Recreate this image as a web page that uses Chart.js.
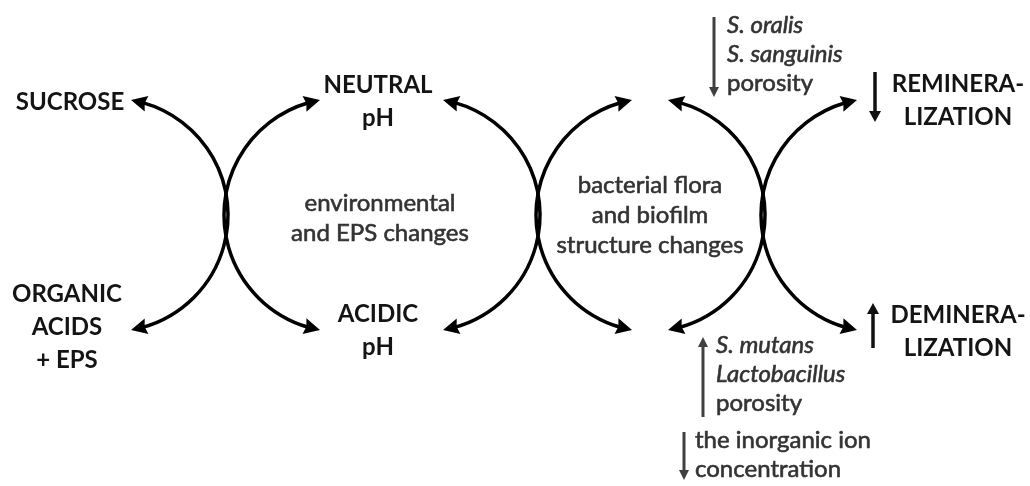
<!DOCTYPE html>
<html>
<head>
<meta charset="utf-8">
<title>Biofilm changes diagram</title>
<script src="https://cdn.jsdelivr.net/npm/chart.js@4.4.1/dist/chart.umd.min.js"></script>
<style>
  html, body { margin: 0; padding: 0; background: #fff; }
  #wrap { width: 1030px; height: 486px; position: relative; }
</style>
</head>
<body>
<div id="wrap"><canvas id="diagram"></canvas></div>
<script>
/*--------------------------------
    Data (axis units: 0..1030 across, 0..486 down)
----------------------------------*/
// double headed arcs, in pairs that cross: top tip -> crossing -> bottom tip
var arcTipX  = [131, 320, 443, 632, 668, 857];
var arcApexX = [228, 224, 540, 536, 765, 761];
var arcTipY  = [100, 330];
var arcApexY = 215;

var boldLabels = [["SUCROSE"], ["ORGANIC", "ACIDS", "+ EPS"], ["NEUTRAL", "pH"],
                  ["ACIDIC", "pH"], ["REMINERA-", "LIZATION"], ["DEMINERA-", "LIZATION"]];
var boldX = [70, 67, 378, 378, 958, 958];
var boldY = [110, 302, 93, 322, 92, 323];

var centreLabels = [["environmental", "and EPS changes"],
                    ["bacterial flora", "and biofilm", "structure changes"]];
var centreX = [380, 650];
var centreY = [211, 193];

var noteLabels = [["S. oralis", "S. sanguinis", "porosity"],
                  ["S. mutans", "Lactobacillus", "porosity"],
                  ["the inorganic ion", "concentration"]];
var noteItalic = [[true, true, false], [true, true, false], [false, false]];
var noteX = [727, 716, 695];
var noteY = [33, 353, 448];

// vertical trend arrows, drawn from -> to
var trendX    = [714, 703, 684, 875, 873];
var trendFrom = [17, 417, 432, 72, 348];
var trendTo   = [97, 337, 480, 122, 303];
var trendDark = [false, false, false, true, true];

/*--------------------------------
    Helpers
----------------------------------*/
function circleFrom(p1, p2, p3) {
    var ax = p1.x, ay = p1.y, bx = p2.x, by = p2.y, cx = p3.x, cy = p3.y;
    var d = 2 * (ax * (by - cy) + bx * (cy - ay) + cx * (ay - by));
    var a2 = ax * ax + ay * ay, b2 = bx * bx + by * by, c2 = cx * cx + cy * cy;
    var ux = (a2 * (by - cy) + b2 * (cy - ay) + c2 * (ay - by)) / d;
    var uy = (a2 * (cx - bx) + b2 * (ax - cx) + c2 * (bx - ax)) / d;
    return { x: ux, y: uy, r: Math.hypot(ax - ux, ay - uy) };
}

function arrowHead(ctx, tip, base, len, half) {
    var dx = tip.x - base.x, dy = tip.y - base.y;
    var l = Math.hypot(dx, dy);
    var ux = dx / l, uy = dy / l;
    var bx = tip.x - ux * len, by = tip.y - uy * len;
    ctx.beginPath();
    ctx.moveTo(tip.x, tip.y);
    ctx.lineTo(bx - uy * half, by + ux * half);
    ctx.lineTo(bx + ux * 2, by + uy * 2);
    ctx.lineTo(bx + uy * half, by - ux * half);
    ctx.closePath();
    ctx.fill();
}

function drawArc(ctx, p1, p2, p3) {
    var c = circleFrom(p1, p2, p3);
    var norm = function (a) { return ((a % (2 * Math.PI)) + 2 * Math.PI) % (2 * Math.PI); };
    var a1 = Math.atan2(p1.y - c.y, p1.x - c.x);
    var a2 = Math.atan2(p2.y - c.y, p2.x - c.x);
    var a3 = Math.atan2(p3.y - c.y, p3.x - c.x);
    var cw = norm(a2 - a1) < norm(a3 - a1);
    var s = cw ? 1 : -1;
    var d = 12 / c.r;
    var b1 = a1 + s * d, b3 = a3 - s * d;
    ctx.beginPath();
    ctx.arc(c.x, c.y, c.r, b1, b3, !cw);
    ctx.stroke();
    var e = 15 / c.r;
    arrowHead(ctx, p1, { x: c.x + c.r * Math.cos(a1 + s * e), y: c.y + c.r * Math.sin(a1 + s * e) }, 16, 8);
    arrowHead(ctx, p3, { x: c.x + c.r * Math.cos(a3 - s * e), y: c.y + c.r * Math.sin(a3 - s * e) }, 16, 8);
}

// fill + thin stroke so the light text has some of the original's weight
function heavyText(ctx, s, x, y) {
    ctx.fillText(s, x, y);
    ctx.strokeText(s, x, y);
}

/*--------------------------------
    Plugin that draws the diagram
----------------------------------*/
var diagramPlugin = {
    id: 'diagram',
    afterDraw: function (chart) {
        var ctx = chart.ctx;
        var xs = chart.scales.x, ys = chart.scales.y;
        var px = function (v) { return xs.getPixelForValue(v); };
        var py = function (v) { return ys.getPixelForValue(v); };
        ctx.save();

        // arcs
        ctx.strokeStyle = '#000';
        ctx.fillStyle = '#000';
        ctx.lineWidth = 3.5;
        for (var i = 0; i < arcTipX.length; i++) {
            drawArc(ctx,
                { x: px(arcTipX[i]), y: py(arcTipY[0]) },
                { x: px(arcApexX[i]), y: py(arcApexY) },
                { x: px(arcTipX[i]), y: py(arcTipY[1]) });
        }

        // trend arrows
        for (var t = 0; t < trendX.length; t++) {
            var col = trendDark[t] ? '#111' : '#404040';
            var x = px(trendX[t]), y0 = py(trendFrom[t]), y1 = py(trendTo[t]);
            var dir = y1 > y0 ? 1 : -1;
            var hl = trendDark[t] ? 11 : 10;
            ctx.strokeStyle = col;
            ctx.fillStyle = col;
            ctx.lineWidth = trendDark[t] ? 3.5 : 3;
            ctx.beginPath();
            ctx.moveTo(x, y0);
            ctx.lineTo(x, y1 - dir * (hl - 2));
            ctx.stroke();
            ctx.beginPath();
            ctx.moveTo(x, y1);
            ctx.lineTo(x - (trendDark[t] ? 6 : 5), y1 - dir * hl);
            ctx.lineTo(x + (trendDark[t] ? 6 : 5), y1 - dir * hl);
            ctx.closePath();
            ctx.fill();
        }

        // bold labels
        ctx.textBaseline = 'alphabetic';
        ctx.textAlign = 'center';
        ctx.fillStyle = '#141414';
        ctx.font = 'bold 24px Lato';
        boldLabels.forEach(function (lines, k) {
            lines.forEach(function (s, j) {
                ctx.fillText(s, px(boldX[k]), py(boldY[k] + j * 33));
            });
        });

        // centre captions
        ctx.fillStyle = '#333';
        ctx.strokeStyle = '#333';
        ctx.lineWidth = 0.6;
        ctx.font = '24px Lato';
        centreLabels.forEach(function (lines, k) {
            lines.forEach(function (s, j) {
                heavyText(ctx, s, px(centreX[k]), py(centreY[k] + j * 30));
            });
        });

        // side notes
        ctx.textAlign = 'left';
        noteLabels.forEach(function (lines, k) {
            lines.forEach(function (s, j) {
                ctx.font = (noteItalic[k][j] ? 'italic ' : '') + '24px Lato';
                heavyText(ctx, s, px(noteX[k]), py(noteY[k] + j * 29));
            });
        });

        ctx.restore();
    }
};

new Chart(document.getElementById('diagram'), {
    type: 'scatter',
    data: { datasets: [] },
    options: {
        responsive: true,
        maintainAspectRatio: false,
        animation: false,
        layout: { padding: 0 },
        plugins: { legend: { display: false }, tooltip: { enabled: false } },
        scales: {
            x: { type: 'linear', min: 0, max: 1030, display: false },
            y: { type: 'linear', min: 0, max: 486, reverse: true, display: false }
        }
    },
    plugins: [diagramPlugin]
});
</script>
</body>
</html>
